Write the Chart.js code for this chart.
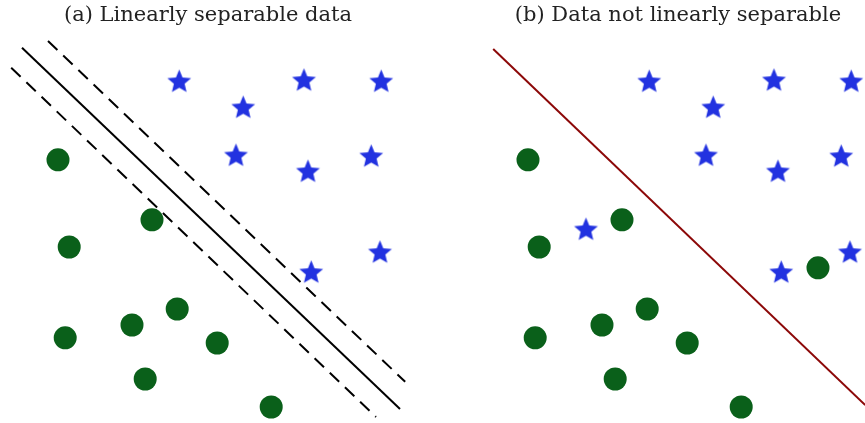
<!DOCTYPE html>
<html>
<head>
<meta charset="utf-8">
<script src="https://cdn.jsdelivr.net/npm/chart.js@4"></script>
<style>
  html, body { margin: 0; padding: 0; background: #fff; }
  #wrap { position: relative; width: 865px; height: 423px; overflow: hidden; }
  .panel { position: absolute; top: 0; width: 432px; height: 423px; }
</style>
</head>
<body>
<div id="wrap">
  <div class="panel" style="left:0"><canvas id="chart-a" width="432" height="423"></canvas></div>
  <div class="panel" style="left:433px"><canvas id="chart-b" width="432" height="423"></canvas></div>
</div>
<script>
// Shared points (same layout in both panels)
const starX = [4.48, 6.08, 7.6, 9.53, 5.9, 7.7, 9.28, 7.78, 9.5];
const starY = [8.55, 7.9, 8.58, 8.55, 6.7, 6.3, 6.68, 3.78, 4.28];
const dotX = [1.45, 3.8, 1.73, 4.43, 3.3, 1.63, 5.43, 3.63, 6.78];
const dotY = [6.58, 5.08, 4.4, 2.85, 2.45, 2.13, 2.0, 1.1, 0.4];

// Extra points only in panel (b)
const extraStarX = [2.9];
const extraStarY = [4.85];
const extraDotX = [8.7];
const extraDotY = [3.88];

// Separating line and margins, panel (a)
const solidX = [0.55, 10.0];
const solidY = [9.38, 0.35];
const upperX = [1.2, 10.13];
const upperY = [9.55, 1.03];
const lowerX = [0.28, 9.4];
const lowerY = [8.88, 0.15];

// Decision line, panel (b)
const lineBX = [0.58, 9.88];
const lineBY = [9.35, 0.45];

const titles = ['(a) Linearly separable data', '(b) Data not linearly separable'];

const BLUE = 'rgb(34, 50, 224)';
const GREEN = 'rgb(10, 96, 26)';

function zip(xs, ys) {
    return xs.map((x, i) => ({ x, y: ys[i] }));
}

function makeStar(r) {
    const c = document.createElement('canvas');
    const s = Math.ceil(r * 2 + 2);
    c.width = s; c.height = s;
    const g = c.getContext('2d');
    g.translate(s / 2, s / 2 + 1);
    g.beginPath();
    for (let i = 0; i < 10; i++) {
        const rad = i % 2 === 0 ? r : r * 0.45;
        const a = -Math.PI / 2 + i * Math.PI / 5;
        const px = rad * Math.cos(a), py = rad * Math.sin(a);
        if (i === 0) g.moveTo(px, py); else g.lineTo(px, py);
    }
    g.closePath();
    g.fillStyle = BLUE;
    g.fill();
    return c;
}

const starImg = makeStar(12.5);

function starSet(xs, ys) {
    return { data: zip(xs, ys), pointStyle: starImg, pointRadius: 12, showLine: false, clip: false };
}

function dotSet(xs, ys) {
    return { data: zip(xs, ys), pointStyle: 'circle', pointRadius: 11.5, backgroundColor: GREEN, borderColor: GREEN, borderWidth: 0, showLine: false, clip: false };
}

function lineSet(xs, ys, color, dash) {
    return { data: zip(xs, ys), showLine: true, pointRadius: 0, borderColor: color, borderWidth: 2, borderDash: dash || [], clip: false };
}

function panelOptions(title, padding, xMin, xMax) {
    return {
        responsive: false,
        animation: false,
        events: [],
        layout: { padding, autoPadding: false },
        plugins: {
            legend: { display: false },
            tooltip: { enabled: false },
            title: {
                display: true,
                text: title,
                color: '#222',
                font: { family: 'DejaVu Serif', size: 21, weight: 'normal', lineHeight: 24 / 21 },
                padding: { top: 4, bottom: 2 },
            },
        },
        scales: {
            x: { type: 'linear', min: xMin, max: xMax, display: false },
            y: { type: 'linear', min: 0, max: 9.825, display: false },
        },
    };
}

new Chart(document.getElementById('chart-a'), {
    type: 'scatter',
    data: {
        datasets: [
            lineSet(upperX, upperY, '#000', [13, 8]),
            lineSet(lowerX, lowerY, '#000', [13, 8]),
            lineSet(solidX, solidY, '#000'),
            dotSet(dotX, dotY),
            starSet(starX, starY),
        ],
    },
    options: panelOptions(titles[0], { right: 16 }, 0, 10.4),
});

new Chart(document.getElementById('chart-b'), {
    type: 'scatter',
    data: {
        datasets: [
            lineSet(lineBX, lineBY, 'rgb(140, 8, 8)'),
            dotSet(dotX.concat(extraDotX), dotY.concat(extraDotY)),
            starSet(starX.concat(extraStarX), starY.concat(extraStarY)),
        ],
    },
    options: panelOptions(titles[1], { left: 58 }, 0.525, 9.875),
});
</script>
</body>
</html>
